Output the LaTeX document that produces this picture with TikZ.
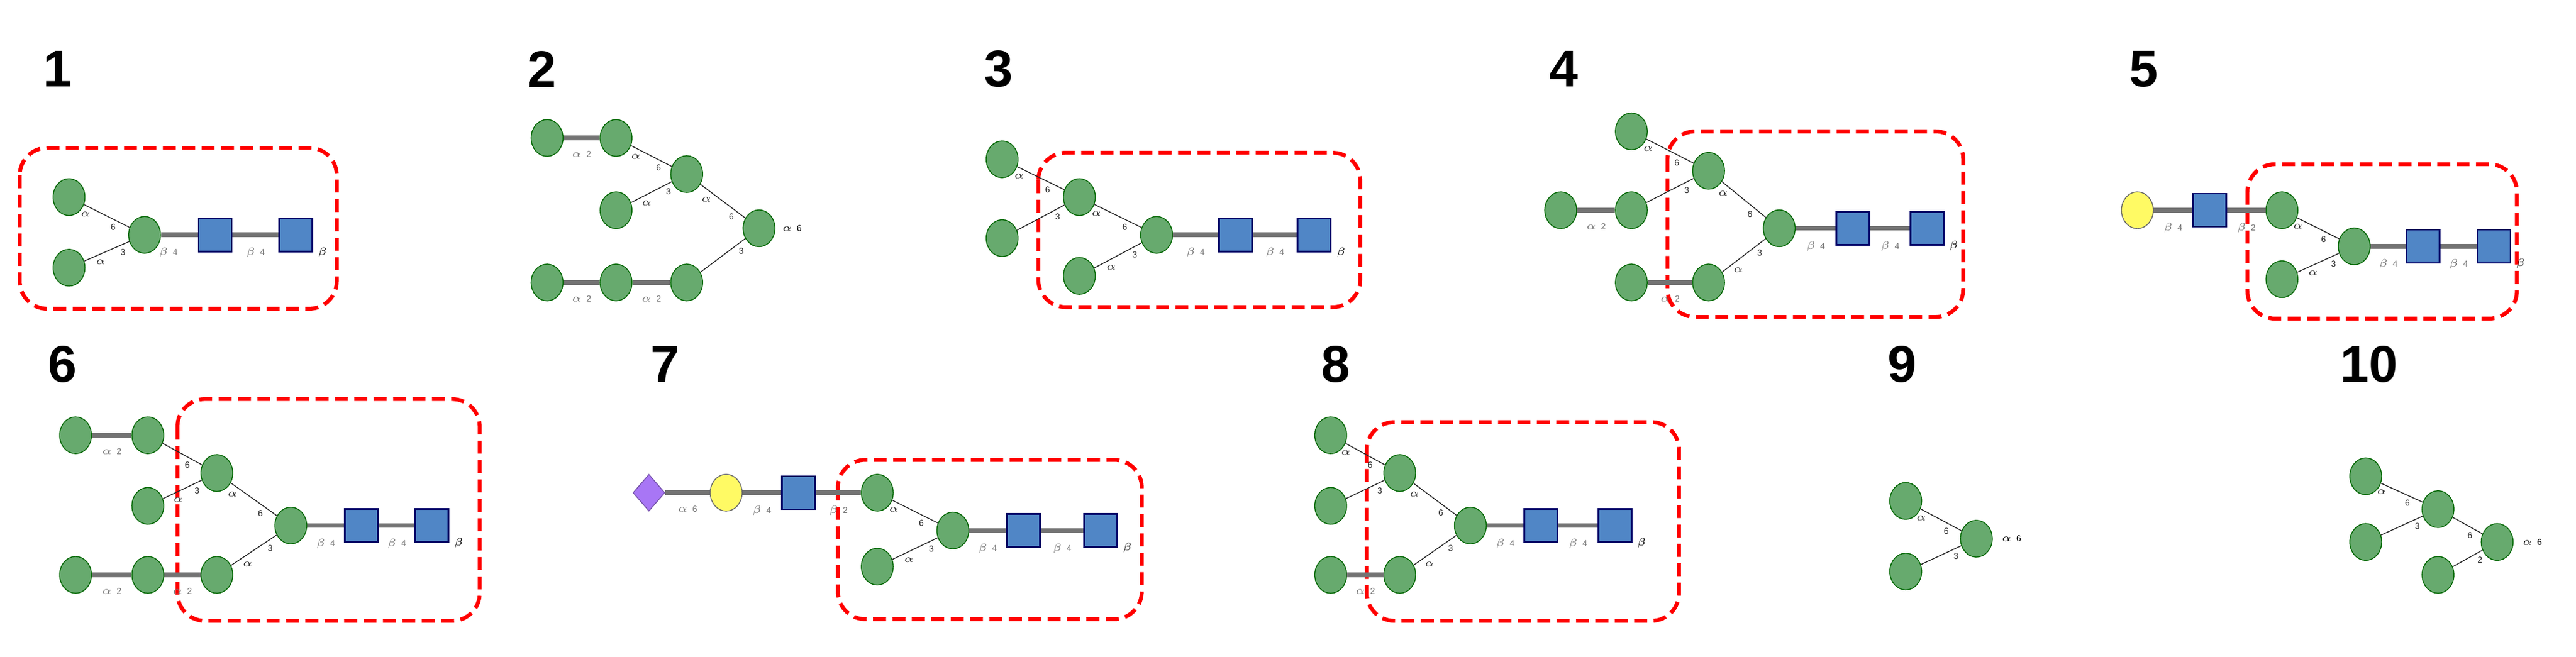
\documentclass[tikz,border=0pt]{standalone}
\usepackage{fontspec}
\setmainfont{Liberation Sans}
\usetikzlibrary{shapes.geometric, positioning}
\definecolor{manG}{RGB}{103,170,110}
\definecolor{glcB}{RGB}{80,134,198}
\definecolor{galY}{RGB}{255,250,100}
\definecolor{siaP}{RGB}{168,118,245}
\begin{document}
\begin{tikzpicture}[
    x=0.0268cm, y=-0.0268cm,
    man/.style={ellipse, draw=green!40!black, fill=manG, minimum width=0.52cm, minimum height=0.6cm, inner sep=0pt},
    glc/.style={rectangle, draw=blue!40!black, thick, fill=glcB, minimum size=0.54cm, inner sep=0pt},
    gal/.style={ellipse, draw=black!60, fill=galY, minimum width=0.52cm, minimum height=0.6cm, inner sep=0pt},
    sia/.style={diamond, draw=siaP!70!black, fill=siaP, minimum width=0.52cm, minimum height=0.6cm, inner sep=0pt},
    num/.style={font=\fontsize{24}{24}\bfseries\selectfont},
    lnk/.style={font=\fontsize{4}{4}\selectfont, inner sep=1pt},
    alink/.style={thin, black!85},
    blink/.style={line width=2.2pt, black!55},
    core/.style={draw=red, line width=1.8pt, dash pattern=on 6pt off 3pt, rounded corners=0.45cm}
]
\useasboundingbox (0,0) rectangle (1568,400);

% Panel 1
\node[num] (n1) at (35,42) {1};
\draw[core] (12,90) rectangle (205,188);
\node[man] (p1a) at (42,120) {};
\node[man] (p1b) at (42,163) {};
\node[man] (p1c) at (88,143) {};
\node[glc] (p1d) at (131,143) {};
\node[glc] (p1e) at (180,143) {};
\draw[alink] (p1a) -- node[lnk, pos=0.2, below left]{$\alpha$} node[lnk, pos=0.75, below left]{6} (p1c);
\draw[alink] (p1b) -- node[lnk, pos=0.2, below right]{$\alpha$} node[lnk, pos=0.75, below right]{3} (p1c);
\draw[blink] (p1c) -- node[lnk, pos=0.2, below=4pt]{$\beta$\ \ 4} (p1d);
\draw[blink] (p1d) -- node[lnk, pos=0.5, below=4pt]{$\beta$\ \ 4} (p1e);
\node[lnk, right=1pt of p1e.south east] (p1r) {$\beta$};

% Panel 2
\node[num] (n2) at (330,42) {2};
\node[man] (p2a) at (333,84) {};
\node[man] (p2b) at (375,84) {};
\node[man] (p2c) at (418,106) {};
\node[man] (p2d) at (375,128) {};
\node[man] (p2e) at (462,139) {};
\node[man] (p2f) at (333,172) {};
\node[man] (p2g) at (375,172) {};
\node[man] (p2h) at (418,172) {};
\draw[blink] (p2a) -- node[lnk, below=4pt]{$\alpha$\ \ 2} (p2b);
\draw[alink] (p2b) -- node[lnk, pos=0.3, below left]{$\alpha$} node[lnk, pos=0.8, below left]{6} (p2c);
\draw[alink] (p2d) -- node[lnk, pos=0.2, below right]{$\alpha$} node[lnk, pos=0.8, below right]{3} (p2c);
\draw[alink] (p2c) -- node[lnk, pos=0.3, below left]{$\alpha$} node[lnk, pos=0.8, below left]{6} (p2e);
\draw[blink] (p2f) -- node[lnk, below=4pt]{$\alpha$\ \ 2} (p2g);
\draw[blink] (p2g) -- node[lnk, below=4pt]{$\alpha$\ \ 2} (p2h);
\draw[alink] (p2h) -- node[lnk, pos=0.8, below right]{3} (p2e);
\node[lnk, right=2pt of p2e] (p2r) {$\alpha$\ \ 6};

% Panel 3
\node[num] (n3) at (608,42) {3};
\draw[core] (632,93) rectangle (828,187);
\node[man] (p3a) at (610,97) {};
\node[man] (p3b) at (610,145) {};
\node[man] (p3c) at (657,120) {};
\node[man] (p3d) at (657,168) {};
\node[man] (p3e) at (704,143) {};
\node[glc] (p3f) at (752,143) {};
\node[glc] (p3g) at (800,143) {};
\draw[alink] (p3a) -- node[lnk, pos=0.2, below left]{$\alpha$} node[lnk, pos=0.75, below left]{6} (p3c);
\draw[alink] (p3b) -- node[lnk, pos=0.75, below right]{3} (p3c);
\draw[alink] (p3c) -- node[lnk, pos=0.2, below left]{$\alpha$} node[lnk, pos=0.75, below left]{6} (p3e);
\draw[alink] (p3d) -- node[lnk, pos=0.2, below right]{$\alpha$} node[lnk, pos=0.75, below right]{3} (p3e);
\draw[blink] (p3e) -- node[lnk, below=4pt]{$\beta$\ \ 4} (p3f);
\draw[blink] (p3f) -- node[lnk, below=4pt]{$\beta$\ \ 4} (p3g);
\node[lnk, right=1pt of p3g.south east] (p3r) {$\beta$};

% Panel 4
\node[num] (n4) at (952,42) {4};
\draw[core] (1015,80) rectangle (1195,193);
\node[man] (p4a) at (993,80) {};
\node[man] (p4b) at (950,128) {};
\node[man] (p4c) at (993,128) {};
\node[man] (p4d) at (1040,104) {};
\node[man] (p4e) at (993,172) {};
\node[man] (p4f) at (1040,172) {};
\node[man] (p4g) at (1083,139) {};
\node[glc] (p4h) at (1128,139) {};
\node[glc] (p4i) at (1173,139) {};
\draw[alink] (p4a) -- node[lnk, pos=0.2, below left]{$\alpha$} node[lnk, pos=0.75, below left]{6} (p4d);
\draw[blink] (p4b) -- node[lnk, below=4pt]{$\alpha$\ \ 2} (p4c);
\draw[alink] (p4c) -- node[lnk, pos=0.75, below right]{3} (p4d);
\draw[alink] (p4d) -- node[lnk, pos=0.2, below left]{$\alpha$} node[lnk, pos=0.75, below left]{6} (p4g);
\draw[blink] (p4e) -- node[lnk, below=4pt]{$\alpha$\ \ 2} (p4f);
\draw[alink] (p4f) -- node[lnk, pos=0.2, below right]{$\alpha$} node[lnk, pos=0.75, below right]{3} (p4g);
\draw[blink] (p4g) -- node[lnk, below=4pt]{$\beta$\ \ 4} (p4h);
\draw[blink] (p4h) -- node[lnk, below=4pt]{$\beta$\ \ 4} (p4i);
\node[lnk, right=1pt of p4i.south east] (p4r) {$\beta$};

% Panel 5
\node[num] (n5) at (1305,42) {5};
\draw[core] (1368,100) rectangle (1532,194);
\node[gal] (p5a) at (1301,128) {};
\node[glc] (p5b) at (1345,128) {};
\node[man] (p5c) at (1389,128) {};
\node[man] (p5d) at (1389,170) {};
\node[man] (p5e) at (1433,150) {};
\node[glc] (p5f) at (1475,150) {};
\node[glc] (p5g) at (1518,150) {};
\draw[blink] (p5a) -- node[lnk, below=4pt]{$\beta$\ \ 4} (p5b);
\draw[blink] (p5b) -- node[lnk, below=4pt]{$\beta$\ \ 2} (p5c);
\draw[alink] (p5c) -- node[lnk, pos=0.2, below left]{$\alpha$} node[lnk, pos=0.75, below left]{6} (p5e);
\draw[alink] (p5d) -- node[lnk, pos=0.2, below right]{$\alpha$} node[lnk, pos=0.75, below right]{3} (p5e);
\draw[blink] (p5e) -- node[lnk, below=4pt]{$\beta$\ \ 4} (p5f);
\draw[blink] (p5f) -- node[lnk, below=4pt]{$\beta$\ \ 4} (p5g);
\node[lnk, right=1pt of p5g.south east] (p5r) {$\beta$};

% Panel 6
\node[num] (n6) at (38,222) {6};
\draw[core] (108,243) rectangle (292,378);
\node[man] (p6a) at (46,265) {};
\node[man] (p6b) at (90,265) {};
\node[man] (p6c) at (90,308) {};
\node[man] (p6d) at (132,288) {};
\node[man] (p6e) at (46,350) {};
\node[man] (p6f) at (90,350) {};
\node[man] (p6g) at (132,350) {};
\node[man] (p6h) at (177,320) {};
\node[glc] (p6i) at (220,320) {};
\node[glc] (p6j) at (263,320) {};
\draw[blink] (p6a) -- node[lnk, below=4pt]{$\alpha$\ \ 2} (p6b);
\draw[alink] (p6b) -- node[lnk, pos=0.75, below left]{6} (p6d);
\draw[alink] (p6c) -- node[lnk, pos=0.2, below right]{$\alpha$} node[lnk, pos=0.75, below right]{3} (p6d);
\draw[alink] (p6d) -- node[lnk, pos=0.2, below left]{$\alpha$} node[lnk, pos=0.75, below left]{6} (p6h);
\draw[blink] (p6e) -- node[lnk, below=4pt]{$\alpha$\ \ 2} (p6f);
\draw[blink] (p6f) -- node[lnk, below=4pt]{$\alpha$\ \ 2} (p6g);
\draw[alink] (p6g) -- node[lnk, pos=0.2, below right]{$\alpha$} node[lnk, pos=0.75, below right]{3} (p6h);
\draw[blink] (p6h) -- node[lnk, below=4pt]{$\beta$\ \ 4} (p6i);
\draw[blink] (p6i) -- node[lnk, below=4pt]{$\beta$\ \ 4} (p6j);
\node[lnk, right=1pt of p6j.south east] (p6r) {$\beta$};

% Panel 7
\node[num] (n7) at (405,222) {7};
\draw[core] (510,280) rectangle (695,377);
\node[sia] (p7a) at (395,300) {};
\node[gal] (p7b) at (442,300) {};
\node[glc] (p7c) at (486,300) {};
\node[man] (p7d) at (534,300) {};
\node[man] (p7e) at (534,345) {};
\node[man] (p7f) at (580,323) {};
\node[glc] (p7g) at (623,323) {};
\node[glc] (p7h) at (670,323) {};
\draw[blink] (p7a) -- node[lnk, below=4pt]{$\alpha$\ \ 6} (p7b);
\draw[blink] (p7b) -- node[lnk, below=4pt]{$\beta$\ \ 4} (p7c);
\draw[blink] (p7c) -- node[lnk, below=4pt]{$\beta$\ \ 2} (p7d);
\draw[alink] (p7d) -- node[lnk, pos=0.2, below left]{$\alpha$} node[lnk, pos=0.75, below left]{6} (p7f);
\draw[alink] (p7e) -- node[lnk, pos=0.2, below right]{$\alpha$} node[lnk, pos=0.75, below right]{3} (p7f);
\draw[blink] (p7f) -- node[lnk, below=4pt]{$\beta$\ \ 4} (p7g);
\draw[blink] (p7g) -- node[lnk, below=4pt]{$\beta$\ \ 4} (p7h);
\node[lnk, right=1pt of p7h.south east] (p7r) {$\beta$};

% Panel 8
\node[num] (n8) at (813,222) {8};
\draw[core] (832,257) rectangle (1022,378);
\node[man] (p8a) at (810,265) {};
\node[man] (p8b) at (810,308) {};
\node[man] (p8c) at (852,288) {};
\node[man] (p8d) at (810,350) {};
\node[man] (p8e) at (852,350) {};
\node[man] (p8f) at (895,320) {};
\node[glc] (p8g) at (938,320) {};
\node[glc] (p8h) at (983,320) {};
\draw[alink] (p8a) -- node[lnk, pos=0.2, below left]{$\alpha$} node[lnk, pos=0.75, below left]{6} (p8c);
\draw[alink] (p8b) -- node[lnk, pos=0.75, below right]{3} (p8c);
\draw[alink] (p8c) -- node[lnk, pos=0.2, below left]{$\alpha$} node[lnk, pos=0.75, below left]{6} (p8f);
\draw[blink] (p8d) -- node[lnk, below=4pt]{$\alpha$\ \ 2} (p8e);
\draw[alink] (p8e) -- node[lnk, pos=0.2, below right]{$\alpha$} node[lnk, pos=0.75, below right]{3} (p8f);
\draw[blink] (p8f) -- node[lnk, below=4pt]{$\beta$\ \ 4} (p8g);
\draw[blink] (p8g) -- node[lnk, below=4pt]{$\beta$\ \ 4} (p8h);
\node[lnk, right=1pt of p8h.south east] (p8r) {$\beta$};

% Panel 9
\node[num] (n9) at (1158,222) {9};
\node[man] (p9a) at (1160,305) {};
\node[man] (p9b) at (1160,348) {};
\node[man] (p9c) at (1203,328) {};
\draw[alink] (p9a) -- node[lnk, pos=0.2, below left]{$\alpha$} node[lnk, pos=0.75, below left]{6} (p9c);
\draw[alink] (p9b) -- node[lnk, pos=0.75, below right]{3} (p9c);
\node[lnk, right=3pt of p9c] (p9r) {$\alpha$\ \ 6};

% Panel 10
\node[num] (n10) at (1442,222) {10};
\node[man] (q1a) at (1440,290) {};
\node[man] (q1b) at (1440,330) {};
\node[man] (q1c) at (1484,310) {};
\node[man] (q1d) at (1484,350) {};
\node[man] (q1e) at (1520,330) {};
\draw[alink] (q1a) -- node[lnk, pos=0.2, below left]{$\alpha$} node[lnk, pos=0.75, below left]{6} (q1c);
\draw[alink] (q1b) -- node[lnk, pos=0.75, below right]{3} (q1c);
\draw[alink] (q1c) -- node[lnk, pos=0.75, below left]{6} (q1e);
\draw[alink] (q1d) -- node[lnk, pos=0.75, below right]{2} (q1e);
\node[lnk, right=3pt of q1e] (q1r) {$\alpha$\ \ 6};

\end{tikzpicture}
\end{document}
